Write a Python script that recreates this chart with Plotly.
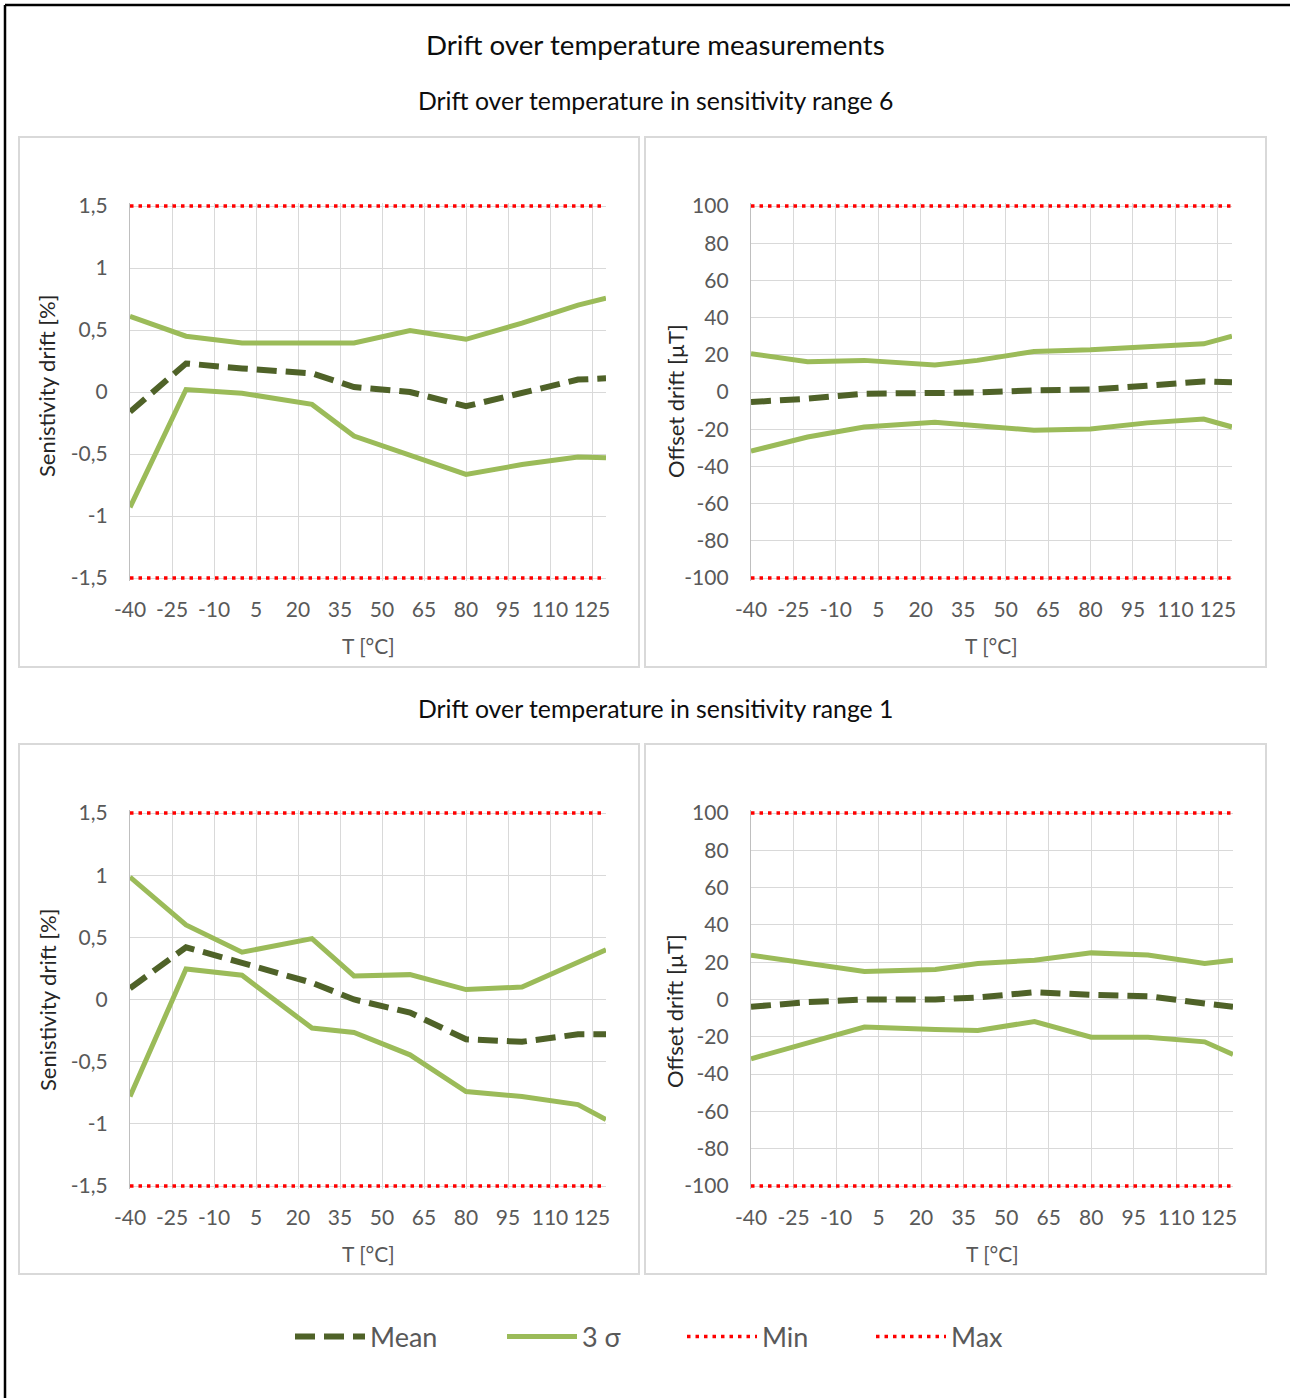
import plotly.graph_objects as go

# ---------------- data ----------------
temps = [-40, -20, 0, 25, 40, 60, 80, 100, 120, 130]

r6_sens_mean = [-0.16, 0.23, 0.19, 0.15, 0.04, 0.0, -0.115, -0.01, 0.10, 0.11]
r6_sens_up = [0.61, 0.45, 0.395, 0.395, 0.395, 0.495, 0.425, 0.555, 0.70, 0.757]
r6_sens_lo = [-0.93, 0.02, -0.01, -0.10, -0.355, -0.505, -0.665, -0.585, -0.525, -0.53]

r6_off_mean = [-5.4, -3.6, -0.9, -0.9, -0.3, 0.9, 1.3, 3.4, 5.7, 5.2]
r6_off_up = [20.6, 16.3, 17.0, 14.5, 17.0, 21.8, 22.7, 24.5, 25.9, 30.0]
r6_off_lo = [-31.8, -24.2, -18.8, -16.3, -18.1, -20.6, -19.9, -16.6, -14.5, -18.8]

r1_sens_mean = [0.09, 0.42, 0.295, 0.135, 0.0, -0.105, -0.32, -0.34, -0.28, -0.28]
r1_sens_up = [0.985, 0.60, 0.38, 0.49, 0.19, 0.20, 0.08, 0.10, 0.30, 0.40]
r1_sens_lo = [-0.78, 0.245, 0.195, -0.23, -0.265, -0.445, -0.74, -0.78, -0.845, -0.965]

r1_off_mean = [-3.9, -1.4, 0.0, 0.0, 1.1, 3.9, 2.5, 1.8, -2.1, -3.9]
r1_off_up = [23.8, 19.6, 15.0, 16.1, 19.3, 21.1, 25.0, 23.9, 19.3, 21.1]
r1_off_lo = [-31.8, -23.2, -14.8, -16.1, -16.6, -11.8, -20.2, -20.2, -22.7, -29.5]

sens_min, sens_max = -1.5, 1.5
off_min, off_max = -100, 100

x_tickvals = [-40, -25, -10, 5, 20, 35, 50, 65, 80, 95, 110, 125]
x_ticktext = ["-40", "-25", "-10", "5", "20", "35", "50", "65", "80", "95", "110", "125"]
sens_tickvals = [-1.5, -1, -0.5, 0, 0.5, 1, 1.5]
sens_ticktext = ["-1,5", "-1", "-0,5", "0", "0,5", "1", "1,5"]
off_tickvals = [-100, -80, -60, -40, -20, 0, 20, 40, 60, 80, 100]
off_ticktext = ["-100", "-80", "-60", "-40", "-20", "0", "20", "40", "60", "80", "100"]

title_main = "Drift over temperature measurements"
title_r6 = "Drift over temperature in sensitivity range 6"
title_r1 = "Drift over temperature in sensitivity range 1"
x_title = "T [°C]"
sens_title = "Senistivity drift [%]"
off_title = "Offset drift [µT]"

# ---------------- style ----------------
W, H = 1290, 1398
FONT = "Lato"
TICK_COLOR = "#595959"
GRID = "#D9D9D9"
MEAN_C = "#4F6228"
SIG_C = "#9BBB59"
RED = "#FF0000"


def px(x):
    return x / W


def py(y):
    return 1 - y / H


fig = go.Figure()

panels = [
    # (axis suffix, mean, up, lo, lo_lim, hi_lim, x-domain px, y-domain px, ticks, ticktext,
    #  ytitle, ytitle pos px)
    ("", r6_sens_mean, r6_sens_up, r6_sens_lo, sens_min, sens_max, (130, 606), (206, 578),
     sens_tickvals, sens_ticktext, sens_title, (47, 386)),
    ("2", r6_off_mean, r6_off_up, r6_off_lo, off_min, off_max, (751, 1232), (206, 578),
     off_tickvals, off_ticktext, off_title, (675, 401)),
    ("3", r1_sens_mean, r1_sens_up, r1_sens_lo, sens_min, sens_max, (130, 606), (813, 1186),
     sens_tickvals, sens_ticktext, sens_title, (47, 1000)),
    ("4", r1_off_mean, r1_off_up, r1_off_lo, off_min, off_max, (751, 1233), (813, 1186),
     off_tickvals, off_ticktext, off_title, (675, 1011)),
]

layout_axes = {}
annotations = []
for i, (suf, mean, up, lo, lmin, lmax, xd, yd, tv, tt, ytitle, ytpos) in enumerate(panels):
    xa = "x" + suf
    ya = "y" + suf
    first = i == 0
    fig.add_trace(go.Scatter(x=temps, y=mean, xaxis=xa, yaxis=ya, mode="lines",
                             name="Mean", legend="legend", showlegend=first,
                             line=dict(color=MEAN_C, width=6, dash="20px,9px")))
    fig.add_trace(go.Scatter(x=temps, y=up, xaxis=xa, yaxis=ya, mode="lines",
                             name="3 σ", legend="legend2", showlegend=first,
                             line=dict(color=SIG_C, width=5)))
    fig.add_trace(go.Scatter(x=temps, y=lo, xaxis=xa, yaxis=ya, mode="lines",
                             name="3 σ", legend="legend2", showlegend=False,
                             line=dict(color=SIG_C, width=5)))
    fig.add_trace(go.Scatter(x=[temps[0], temps[-1]], y=[lmin, lmin], xaxis=xa, yaxis=ya,
                             mode="lines", name="Min", legend="legend3", showlegend=first,
                             line=dict(color=RED, width=3.5, dash="3.5px,5px")))
    fig.add_trace(go.Scatter(x=[temps[0], temps[-1]], y=[lmax, lmax], xaxis=xa, yaxis=ya,
                             mode="lines", name="Max", legend="legend4", showlegend=first,
                             line=dict(color=RED, width=3.5, dash="3.5px,5px")))

    span = lmax - lmin
    pad = span / (yd[1] - yd[0]) * 3
    key = suf
    layout_axes["xaxis" + key] = dict(
        domain=[px(xd[0]), px(xd[1])], range=[temps[0], temps[-1]], anchor=ya,
        tickmode="array", tickvals=x_tickvals, ticktext=x_ticktext,
        showgrid=True, gridcolor=GRID, gridwidth=1.3, zeroline=False, showline=False,
        ticks="", ticklabelstandoff=14, automargin=False,
        tickfont=dict(family=FONT, size=21, color=TICK_COLOR),
    )
    layout_axes["yaxis" + key] = dict(
        domain=[py(yd[1] + 3), py(yd[0] - 3)], range=[lmin - pad, lmax + pad], anchor=xa,
        tickmode="array", tickvals=tv, ticktext=tt,
        showgrid=True, gridcolor=GRID, gridwidth=1.3, zeroline=False,
        showline=True, linecolor="#BFBFBF", linewidth=1.3,
        ticks="", ticklabelstandoff=17, automargin=False,
        tickfont=dict(family=FONT, size=21, color=TICK_COLOR),
    )
    # axis titles
    annotations.append(dict(text=x_title, x=px((xd[0] + xd[1]) / 2), y=py(yd[1] + 67),
                            xref="paper", yref="paper", showarrow=False,
                            xanchor="center", yanchor="middle",
                            font=dict(family=FONT, size=21, color=TICK_COLOR)))
    annotations.append(dict(text=ytitle, x=px(ytpos[0]), y=py(ytpos[1]), textangle=-90,
                            xref="paper", yref="paper", showarrow=False,
                            xanchor="center", yanchor="middle",
                            font=dict(family=FONT, size=22, color="#262626")))

shapes = []
# panel frames
for (x0, y0, x1, y1) in [(19, 137, 639, 667), (645, 137, 1266, 667),
                         (19, 744, 639, 1274), (645, 744, 1266, 1274)]:
    shapes.append(dict(type="rect", xref="paper", yref="paper",
                       x0=px(x0), x1=px(x1), y0=py(y1), y1=py(y0),
                       line=dict(color="#D9D9D9", width=2), fillcolor="rgba(0,0,0,0)", layer="below"))
# outer border (left & top visible)
shapes.append(dict(type="line", xref="paper", yref="paper", x0=px(5), x1=px(5), y0=0, y1=py(5),
                   line=dict(color="black", width=2.5)))
shapes.append(dict(type="line", xref="paper", yref="paper", x0=px(5), x1=1, y0=py(5), y1=py(5),
                   line=dict(color="black", width=2.5)))

annotations += [
    dict(text=title_main, x=px(655), y=py(45), xref="paper", yref="paper", showarrow=False,
         xanchor="center", yanchor="middle", font=dict(family=FONT, size=27.7, color="#0D0D0D")),
    dict(text=title_r6, x=px(655), y=py(101), xref="paper", yref="paper", showarrow=False,
         xanchor="center", yanchor="middle", font=dict(family=FONT, size=24.8, color="#0D0D0D")),
    dict(text=title_r1, x=px(655), y=py(708), xref="paper", yref="paper", showarrow=False,
         xanchor="center", yanchor="middle", font=dict(family=FONT, size=24.8, color="#0D0D0D")),
]

legend_common = dict(orientation="h", yanchor="middle", xanchor="left", y=py(1337),
                     font=dict(family=FONT, size=27, color=TICK_COLOR),
                     itemwidth=70, bgcolor="rgba(0,0,0,0)")
legend_x = [290, 502, 682, 871]

fig.update_layout(
    template="none",
    width=W, height=H,
    margin=dict(l=0, r=0, t=0, b=0, autoexpand=False),
    paper_bgcolor="white", plot_bgcolor="white",
    shapes=shapes, annotations=annotations,
    legend=dict(x=px(legend_x[0]), **legend_common),
    legend2=dict(x=px(legend_x[1]), **legend_common),
    legend3=dict(x=px(legend_x[2]), **legend_common),
    legend4=dict(x=px(legend_x[3]), **legend_common),
    **layout_axes,
)

fig.write_html("out.html", config={"displayModeBar": False},
               post_script="document.body.style.margin='0px';")
